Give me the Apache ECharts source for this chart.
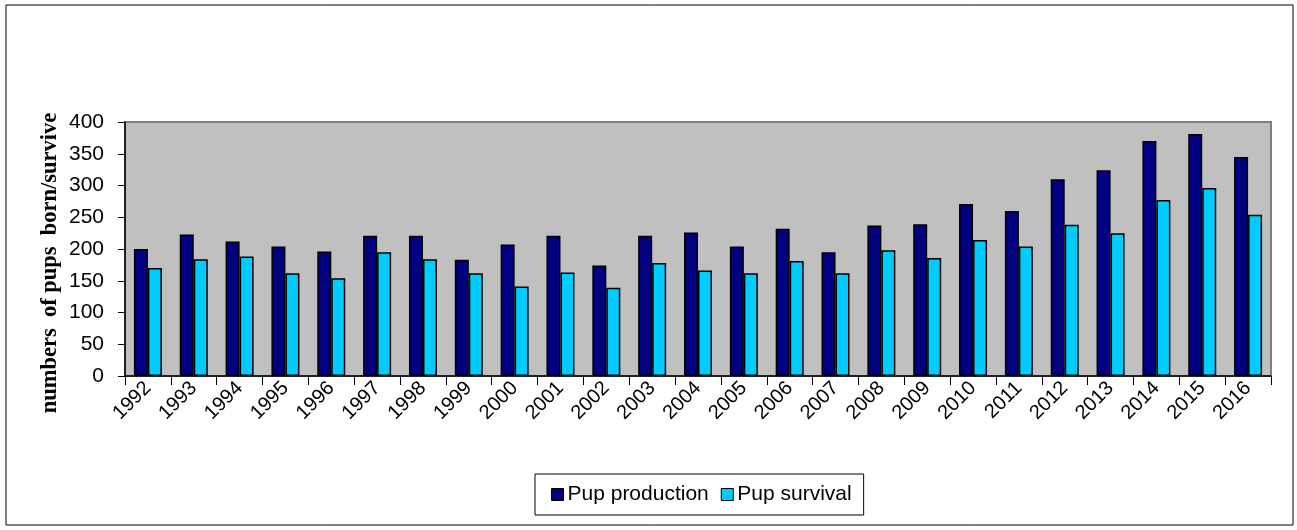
<!DOCTYPE html>
<html>
<head>
<meta charset="utf-8">
<script src="https://cdn.jsdelivr.net/npm/echarts@6/dist/echarts.min.js"></script>
<style>
  html, body { margin: 0; padding: 0; background: #fff; }
  #chart { width: 1297px; height: 530px; }
</style>
</head>
<body>
<div id="chart"></div>
<script>
// years on the x axis
const years = ['1992', '1993', '1994', '1995', '1996', '1997', '1998', '1999', '2000', '2001',
  '2002', '2003', '2004', '2005', '2006', '2007', '2008', '2009', '2010', '2011',
  '2012', '2013', '2014', '2015', '2016'];

const pupProduction = [200, 223, 212, 204, 196, 221, 221, 183, 207, 221,
  174, 221, 226, 204, 232, 195, 237, 239, 271, 260,
  310, 324, 370, 381, 345];
const pupSurvival = [170, 184, 188, 162, 154, 195, 184, 162, 141, 163,
  139, 178, 166, 162, 181, 162, 198, 186, 214, 204,
  238, 225, 277, 296, 254];

const yTicks = [0, 50, 100, 150, 200, 250, 300, 350, 400];

const chart = echarts.init(document.getElementById('chart'));

const option = {
  animation: false,
  backgroundColor: '#fff',
  graphic: [
    {
      type: 'rect',
      shape: { x: 6, y: 5, width: 1287, height: 520 },
      style: { fill: 'none', stroke: '#000', lineWidth: 1 },
      silent: true
    },
    {
      type: 'text',
      x: 50,
      y: 263,
      rotation: Math.PI / 2,
      style: {
        text: 'numbers  of pups  born/survive',
        font: 'bold 22.5px "Liberation Serif"',
        fill: '#000',
        align: 'center',
        verticalAlign: 'middle'
      },
      silent: true
    }
  ],
  legend: {
    left: 535,
    top: 474,
    orient: 'horizontal',
    padding: [10, 12, 10, 16],
    itemWidth: 12,
    itemHeight: 12,
    itemGap: 12,
    borderColor: '#000',
    borderWidth: 1,
    textStyle: { fontFamily: 'Liberation Sans', fontSize: 21, color: '#000', padding: [0, 0, 0, -1] },
    itemStyle: { borderColor: '#000', borderWidth: 1 },
    icon: 'rect',
    data: ['Pup production', 'Pup survival']
  },
  grid: {
    left: 125,
    right: 26,
    top: 122,
    bottom: 154,
    show: true,
    backgroundColor: '#C0C0C0',
    borderColor: '#808080',
    borderWidth: 2
  },
  xAxis: {
    type: 'category',
    data: years,
    axisLine: { show: true, lineStyle: { color: '#000', width: 1.5 } },
    axisTick: { show: true, alignWithLabel: false, length: 9, lineStyle: { color: '#000', width: 1 } },
    axisLabel: {
      rotate: 45,
      margin: 9,
      fontFamily: 'Liberation Sans',
      fontSize: 20,
      color: '#000',
      interval: 0
    }
  },
  yAxis: {
    type: 'value',
    min: 0,
    max: yTicks[yTicks.length - 1],
    interval: yTicks[1] - yTicks[0],
    axisLine: { show: true, lineStyle: { color: '#000', width: 1.5 } },
    axisTick: { show: true, length: 7, lineStyle: { color: '#000', width: 1 } },
    splitLine: { show: false },
    axisLabel: {
      margin: 21,
      fontFamily: 'Liberation Sans',
      fontSize: 21,
      color: '#000'
    }
  },
  series: [
    {
      name: 'Pup production',
      type: 'bar',
      data: pupProduction,
      barWidth: 14,
      barGap: '0%',
      itemStyle: { color: '#000080', borderColor: '#000', borderWidth: 1.5 }
    },
    {
      name: 'Pup survival',
      type: 'bar',
      data: pupSurvival,
      barWidth: 14,
      barGap: '0%',
      itemStyle: { color: '#00CCFF', borderColor: '#000', borderWidth: 1.5 }
    }
  ]
};

chart.setOption(option);
</script>
</body>
</html>
